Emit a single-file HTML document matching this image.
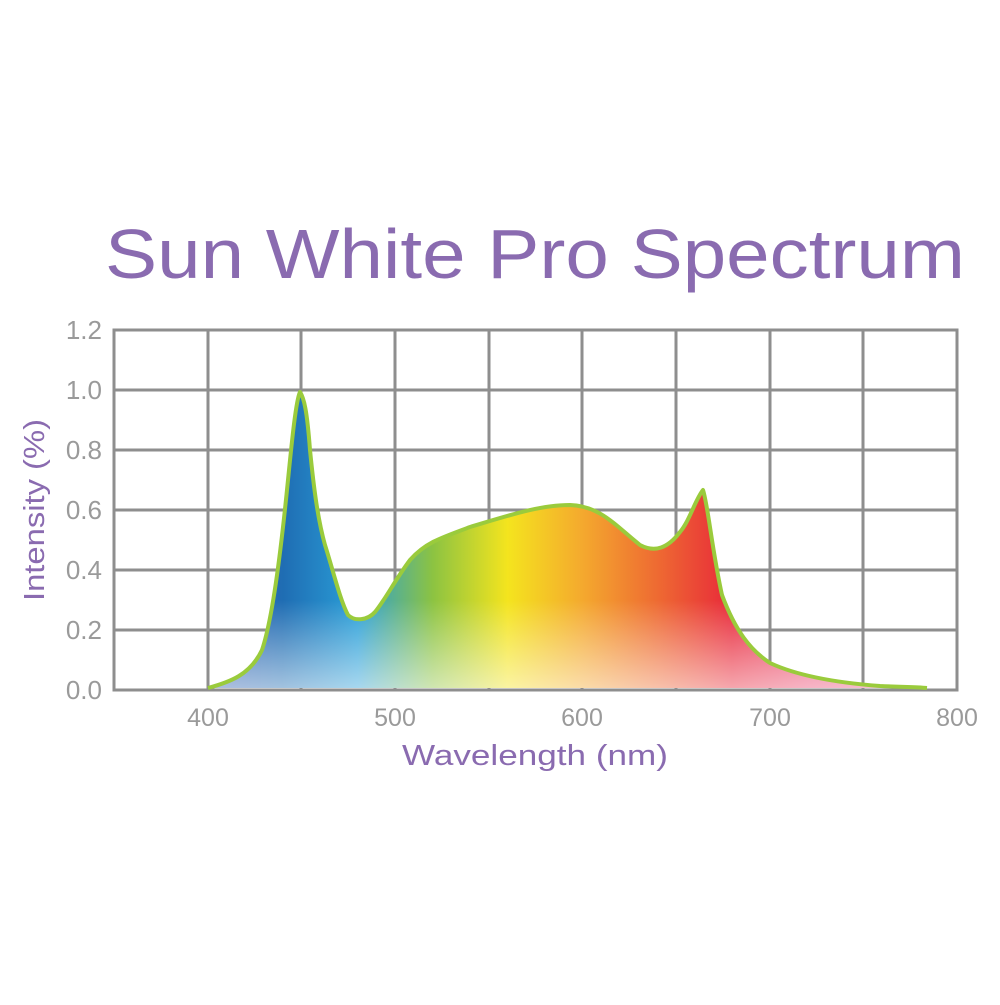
<!DOCTYPE html>
<html><head><meta charset="utf-8"><style>html,body{margin:0;padding:0;background:#fff}</style></head>
<body>
<svg width="1000" height="1000" xmlns="http://www.w3.org/2000/svg" font-family="Liberation Sans, sans-serif">
<defs>
<linearGradient id="h" x1="208" x2="957" y1="0" y2="0" gradientUnits="userSpaceOnUse">
<stop offset="0" stop-color="#3a5fb0"/>
<stop offset="0.1" stop-color="#1f6db3"/>
<stop offset="0.2" stop-color="#2a9fd8"/>
<stop offset="0.3" stop-color="#8cc342"/>
<stop offset="0.4" stop-color="#f4e41e"/>
<stop offset="0.5" stop-color="#f4a92e"/>
<stop offset="0.6" stop-color="#ee6a32"/>
<stop offset="0.7" stop-color="#e8283a"/>
<stop offset="0.8" stop-color="#ea4a72"/>
<stop offset="1" stop-color="#ef7aa4"/>
</linearGradient>
<linearGradient id="v" x1="0" x2="0" y1="600" y2="690" gradientUnits="userSpaceOnUse">
<stop offset="0" stop-color="#fff" stop-opacity="0"/>
<stop offset="1" stop-color="#fff" stop-opacity="0.6"/>
</linearGradient>
</defs>
<text x="105" y="278" font-size="70" fill="#8a6bb0" textLength="860" lengthAdjust="spacingAndGlyphs">Sun White Pro Spectrum</text>
<g stroke="#8e8e8e" stroke-width="3" fill="none">
<path d="M208 330V690M301 330V690M395 330V690M489 330V690M582 330V690M676 330V690M770 330V690M863 330V690"/>
<path d="M114 390H957M114 450H957M114 510H957M114 570H957M114 630H957"/>
<rect x="114" y="330" width="843" height="360"/>
</g>
<path d="M208 688 C230 682 250 675 262 650 C272 620 280 560 288 480 C292 440 296 400 300 392 C304 398 307 410 310 450 C314 490 318 520 325 545 C333 570 340 600 348 615 C355 622 368 620 375 612 C385 600 395 580 410 560 C425 543 440 538 470 527 C510 515 540 505 570 505 C600 506 615 525 640 545 C655 553 668 548 680 532 C690 520 695 500 703 490 C708 505 712 550 722 595 C735 630 750 650 770 663 C800 677 840 683 880 686 C900 687 915 687 927 688 Z" fill="url(#h)"/>
<path d="M208 688 C230 682 250 675 262 650 C272 620 280 560 288 480 C292 440 296 400 300 392 C304 398 307 410 310 450 C314 490 318 520 325 545 C333 570 340 600 348 615 C355 622 368 620 375 612 C385 600 395 580 410 560 C425 543 440 538 470 527 C510 515 540 505 570 505 C600 506 615 525 640 545 C655 553 668 548 680 532 C690 520 695 500 703 490 C708 505 712 550 722 595 C735 630 750 650 770 663 C800 677 840 683 880 686 C900 687 915 687 927 688 Z" fill="url(#v)"/>
<path d="M208 688 C230 682 250 675 262 650 C272 620 280 560 288 480 C292 440 296 400 300 392 C304 398 307 410 310 450 C314 490 318 520 325 545 C333 570 340 600 348 615 C355 622 368 620 375 612 C385 600 395 580 410 560 C425 543 440 538 470 527 C510 515 540 505 570 505 C600 506 615 525 640 545 C655 553 668 548 680 532 C690 520 695 500 703 490 C708 505 712 550 722 595 C735 630 750 650 770 663 C800 677 840 683 880 686 C900 687 915 687 927 688" fill="none" stroke="#9acb3c" stroke-width="4" stroke-linejoin="round"/>
<g font-size="26" fill="#9a9a9a" text-anchor="end">
<text x="102" y="339">1.2</text><text x="102" y="399">1.0</text><text x="102" y="459">0.8</text>
<text x="102" y="519">0.6</text><text x="102" y="579">0.4</text><text x="102" y="639">0.2</text><text x="102" y="699">0.0</text>
</g>
<g font-size="25" fill="#9a9a9a" text-anchor="middle">
<text x="208" y="726">400</text><text x="395" y="726">500</text><text x="582" y="726">600</text><text x="770" y="726">700</text><text x="957" y="726">800</text>
</g>
<text x="402" y="765" font-size="29" fill="#8a6bb0" textLength="266" lengthAdjust="spacingAndGlyphs">Wavelength (nm)</text>
<text transform="translate(44 510) rotate(-90)" font-size="29" fill="#8a6bb0" text-anchor="middle" textLength="182" lengthAdjust="spacingAndGlyphs">Intensity (%)</text>
</svg>
</body></html>
